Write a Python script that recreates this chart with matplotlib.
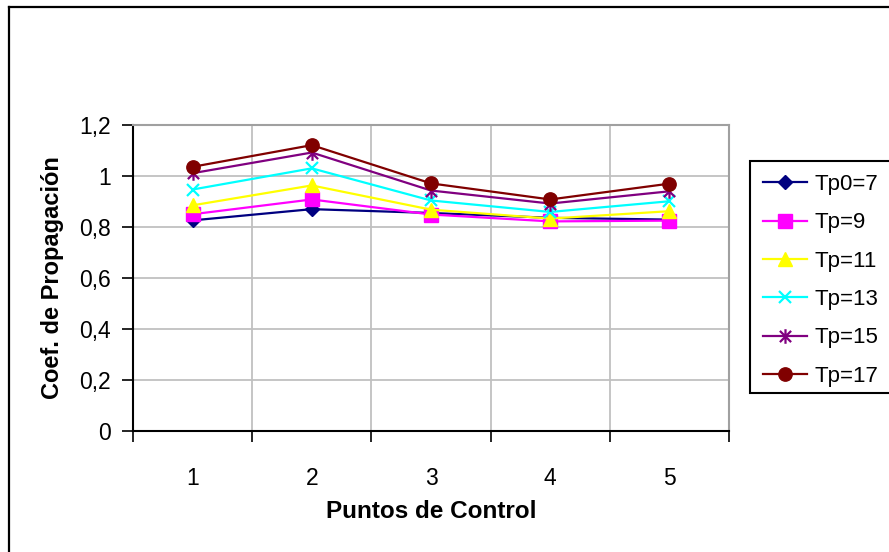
import matplotlib
matplotlib.use("Agg")
import matplotlib.pyplot as plt
from matplotlib.lines import Line2D
from matplotlib.patches import Rectangle
from matplotlib.path import Path
from matplotlib.ticker import FixedLocator, FuncFormatter

plt.rcParams['font.family'] = ['Liberation Sans', 'DejaVu Sans']

# ---- data ----
puntos = [1, 2, 3, 4, 5]
series_labels = ["Tp0=7", "Tp=9", "Tp=11", "Tp=13", "Tp=15", "Tp=17"]
tp7 = [0.826, 0.870, 0.855, 0.836, 0.829]
tp9 = [0.850, 0.908, 0.849, 0.822, 0.825]
tp11 = [0.885, 0.963, 0.868, 0.833, 0.862]
tp13 = [0.947, 1.030, 0.904, 0.859, 0.901]
tp15 = [1.011, 1.092, 0.943, 0.892, 0.940]
tp17 = [1.036, 1.121, 0.971, 0.908, 0.970]
y_ticks = [0, 0.2, 0.4, 0.6, 0.8, 1.0, 1.2]
x_label = "Puntos de Control"
y_label = "Coef. de Propagación"

series = [tp7, tp9, tp11, tp13, tp15, tp17]
colors = ["#000080", "#FF00FF", "#FFFF00", "#00FFFF", "#800080", "#800000"]

# Excel-style star marker: x with a vertical bar
star = Path([(-1, -1), (1, 1), (-1, 1), (1, -1), (0, -1.3), (0, 1.3)],
            [Path.MOVETO, Path.LINETO, Path.MOVETO, Path.LINETO, Path.MOVETO, Path.LINETO])
markers = ["D", "s", "^", "x", star, "o"]
msizes = [6.7, 9.4, 9.4, 9.0, 10.5, 9.6]

W, H = 889, 552
fig = plt.figure(figsize=(W / 100, H / 100), dpi=100)
fig.patch.set_facecolor("white")

ax = fig.add_axes([133 / W, 1 - 431 / H, 596 / W, 306 / H])

handles = []
for i, (vals, lab, c, m, ms) in enumerate(zip(series, series_labels, colors, markers, msizes)):
    mew = 1.6 if i in (3, 4) else 1.0
    h, = ax.plot(puntos, vals, color=c, lw=1.6, marker=m, markersize=ms,
                 markerfacecolor=c, markeredgecolor=c, markeredgewidth=mew,
                 label=lab, clip_on=False, zorder=3)
    handles.append(h)

ax.set_xlim(0.5, 5.5)
ax.set_ylim(0, 1.2)

ax.set_xticks(puntos)
ax.set_xticklabels([str(p) for p in puntos])
ax.xaxis.set_minor_locator(FixedLocator([0.5, 1.5, 2.5, 3.5, 4.5, 5.5]))
ax.tick_params(axis="x", which="major", length=0, pad=26, labelsize=16.5)
ax.tick_params(axis="x", which="minor", length=8, width=1.2, direction="out", color="black")

ax.set_yticks(y_ticks)
ax.yaxis.set_major_formatter(FuncFormatter(lambda v, p: ("%g" % round(v, 1)).replace(".", ",")))
ax.tick_params(axis="y", which="major", length=8, width=1.2, direction="out", pad=8, labelsize=16.5)

ax.grid(True, which="major", axis="y", color="#c0c0c0", lw=1.3)
ax.grid(True, which="minor", axis="x", color="#c0c0c0", lw=1.3)
ax.set_axisbelow(True)

for s in ("top", "right"):
    ax.spines[s].set_color("#a0a0a0")
    ax.spines[s].set_linewidth(1.5)
for s in ("left", "bottom"):
    ax.spines[s].set_color("black")
    ax.spines[s].set_linewidth(1.5)

ax.set_xlabel(x_label, fontsize=17.5, fontweight="bold", labelpad=7)
ax.set_ylabel(y_label, fontsize=17, fontweight="bold", labelpad=11)

# legend frame (extends past right edge)
fig.add_artist(Rectangle((750 / W, 1 - 393 / H), 160 / W, 232 / H,
                         transform=fig.transFigure, facecolor="white",
                         edgecolor="black", lw=1.5, zorder=1))
leg = fig.legend(handles=handles, loc="upper left",
                 bbox_to_anchor=(763 / W, 1 - 174 / H), frameon=False,
                 fontsize=16, handlelength=2.0, handletextpad=0.3,
                 labelspacing=0.78, borderpad=0, borderaxespad=0, numpoints=1)
leg.set_zorder(2)

# outer chart frame (left and top visible)
fig.add_artist(Line2D([9 / W, 9 / W], [0, 1 - 7 / H], transform=fig.transFigure,
                      color="black", lw=1.6))
fig.add_artist(Line2D([9 / W, 1], [1 - 7 / H, 1 - 7 / H], transform=fig.transFigure,
                      color="black", lw=1.6))

fig.savefig("out.png", dpi=100)
